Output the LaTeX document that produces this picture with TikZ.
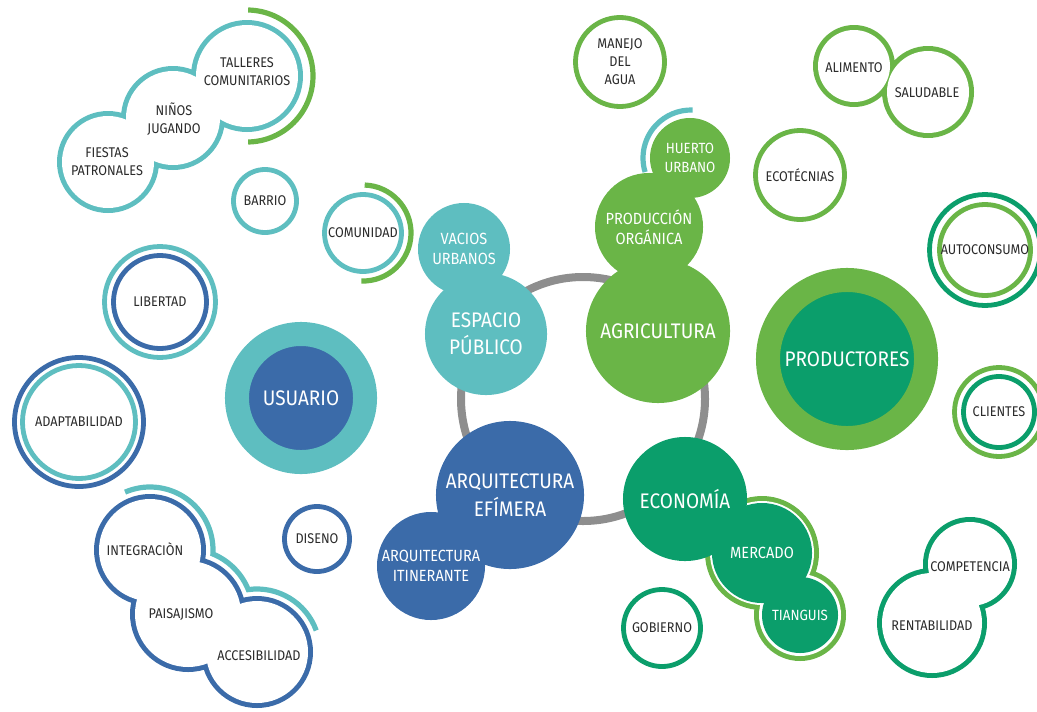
\documentclass[tikz,border=0pt]{standalone}
\usepackage{fontspec}
\setmainfont{Fira Sans}[FakeStretch=0.9]
\definecolor{tealblue}{HTML}{5EBEC0}
\definecolor{ocean}{HTML}{3B6BA9}
\definecolor{leaf}{HTML}{6AB547}
\definecolor{forest}{HTML}{0B9E6B}
\definecolor{ringgray}{HTML}{8E8E8E}
\definecolor{ink}{HTML}{2B2B2B}
\tikzstyle{bub}=[circle, inner sep=0pt, align=center]
\tikzstyle{lblsmall}=[align=center, font=\fontsize{10}{12.8}\selectfont, text=ink]
\tikzstyle{lblmid}=[align=center, font=\fontsize{11.5}{14.5}\selectfont, text=white]
\tikzstyle{lblbig}=[align=center, font=\fontsize{15}{19.5}\selectfont, text=white]
\tikzstyle{ring}=[line width=0.12cm]
\tikzstyle{arcline}=[line width=0.13cm]
\tikzset{rad/.style={minimum size=#1*0.05cm},
  rim/.style={bub, fill=white, draw=#1, ring, lblsmall}}

\begin{document}
\begin{tikzpicture}[x=0.025cm, y=-0.025cm]
    \useasboundingbox (0,0) rectangle (1037,711);

    % centre ring
    \coordinate (hub) at (583,399);
    \draw[ringgray, line width=0.2cm] (hub) circle[radius=122];

    % chain centres
    \coordinate (talleres-c) at (247,76);
    \coordinate (ninos-c) at (173,118);
    \coordinate (fiestas-c) at (108,162);
    \coordinate (integ-c) at (150,550);
    \coordinate (paisaj-c) at (188,614);
    \coordinate (access-c) at (257,652);
    \coordinate (alimento-c) at (854,66);
    \coordinate (saludable-c) at (928,92);
    \coordinate (compet-c) at (970,564);
    \coordinate (rentab-c) at (932,623);
    \coordinate (mercado-c) at (762,553);
    \coordinate (tianguis-c) at (800,615);

    % arcs
    \draw[leaf, arcline] (talleres-c) ++(-89:66) arc[start angle=-89, end angle=89, radius=66];
    \draw[leaf, arcline] (363,233) ++(-88:48) arc[start angle=-88, end angle=92, radius=48];
    \draw[tealblue, arcline] (691,158) ++(163:48) arc[start angle=163, end angle=272, radius=48];
    \draw[tealblue, arcline] (integ-c) ++(246.7:63) arc[start angle=246.7, end angle=363.6, radius=63]
        arc[start angle=-67.5, end angle=-22.05, radius=65]
        arc[start angle=-98, end angle=-20, radius=63];

    % left chains
    \fill[tealblue] (talleres-c) circle[radius=56] (ninos-c) circle[radius=52] (fiestas-c) circle[radius=51];
    \fill[white] (talleres-c) circle[radius=51] (ninos-c) circle[radius=47] (fiestas-c) circle[radius=46];
    \node[lblsmall] (talleres) at (247,72) {TALLERES\\COMUNITARIOS};
    \node[lblsmall] (ninos) at (174,119) {NIÑOS\\JUGANDO};
    \node[lblsmall] (fiestas) at (107,162) {FIESTAS\\PATRONALES};

    \fill[ocean] (integ-c) circle[radius=56] (paisaj-c) circle[radius=58] (access-c) circle[radius=56];
    \fill[white] (integ-c) circle[radius=51] (paisaj-c) circle[radius=53] (access-c) circle[radius=51];
    \node[lblsmall] (integ) at (145,549) {INTEGRACIÒN};
    \node[lblsmall] (paisaj) at (181,615) {PAISAJISMO};
    \node[lblsmall] (access) at (259,656) {ACCESIBILIDAD};

    % right chains
    \fill[leaf] (alimento-c) circle[radius=41] (saludable-c) circle[radius=46];
    \fill[white] (alimento-c) circle[radius=36] (saludable-c) circle[radius=41];
    \node[lblsmall] (alimento) at (854,68) {ALIMENTO};
    \node[lblsmall] (saludable) at (927,93) {SALUDABLE};

    \fill[forest] (compet-c) circle[radius=47] (rentab-c) circle[radius=55];
    \fill[white] (compet-c) circle[radius=42] (rentab-c) circle[radius=50];
    \node[lblsmall] (compet) at (970,567) {COMPETENCIA};
    \node[lblsmall] (rentab) at (932,626) {RENTABILIDAD};

    % single outlined bubbles
    \node[rim=tealblue, rad=31.5] (barrio) at (265,201) {BARRIO};
    \node[rim=tealblue, rad=38.5] (comunidad) at (363,233) {COMUNIDAD};
    \node[rim=ocean, rad=32.5] (diseno) at (317,539) {DISENO};
    \node[rim=forest, rad=38.5] (gobierno) at (662,628) {GOBIERNO};
    \node[rim=leaf, rad=44.5] (ecotecnias) at (800,175) {ECOTÉCNIAS};
    \node[rim=leaf, rad=44.5] (manejo) at (620,62) {MANEJO\\DEL\\AGUA};

    % double rings
    \node[rim=leaf, rad=45.5] (autoconsumo) at (985,250) {AUTOCONSUMO};
    \draw[forest, ring] (autoconsumo) circle[radius=55.5];
    \node[rim=forest, rad=35.5] (clientes) at (999,412) {CLIENTES};
    \draw[leaf, ring] (clientes) circle[radius=44.5];
    \node[rim=ocean, rad=46.5] (libertad) at (160,302) {LIBERTAD};
    \draw[tealblue, ring] (libertad) circle[radius=55.5];
    \node[rim=tealblue, rad=56.5] (adaptab) at (79,422) {ADAPTABILIDAD};
    \draw[ocean, ring] (adaptab) circle[radius=64.5];

    % filled bubbles
    \node[bub, rad=64, fill=ocean, draw=tealblue, line width=0.6cm, lblbig] (usuario) at (301,398) {USUARIO};
    \node[bub, rad=79, fill=forest, draw=leaf, line width=0.6cm, lblbig] (productores) at (847,359) {PRODUCTORES};

    \node[bub, rad=46, fill=tealblue, lblmid] (vacios) at (464,249) {VACIOS\\URBANOS};
    \node[bub, rad=61, fill=tealblue, lblbig] (espacio) at (486,334) {ESPACIO\\PÚBLICO};

    \node[bub, rad=72, fill=leaf, lblbig] (agricultura) at (658,331) {AGRICULTURA};
    \node[bub, rad=54, fill=leaf, lblmid] (produccion) at (649,227) {PRODUCCIÓN\\ORGÁNICA};
    \node[bub, rad=40, fill=leaf, lblmid, font=\fontsize{10.5}{13.5}\selectfont] (huerto) at (690,158) {HUERTO\\URBANO};

    \node[bub, rad=74, fill=ocean, lblbig] (efimera) at (510,495) {ARQUITECTURA\\EFÍMERA};
    \node[bub, rad=54, fill=ocean, lblmid] (itinerante) at (431,566) {ARQUITECTURA\\ITINERANTE};

    \fill[leaf] (mercado-c) circle[radius=57] (tianguis-c) circle[radius=46];
    \fill[white] (mercado-c) circle[radius=52] (tianguis-c) circle[radius=41];
    \node[bub, rad=50, fill=forest, lblmid] (mercado) at (mercado-c) {MERCADO};
    \node[bub, rad=38, fill=forest, lblmid, font=\fontsize{10.5}{13.5}\selectfont] (tianguis) at (tianguis-c) {TIANGUIS};
    \node[bub, rad=62, fill=forest, lblbig] (economia) at (685,499) {ECONOMÍA};

\end{tikzpicture}
\end{document}
